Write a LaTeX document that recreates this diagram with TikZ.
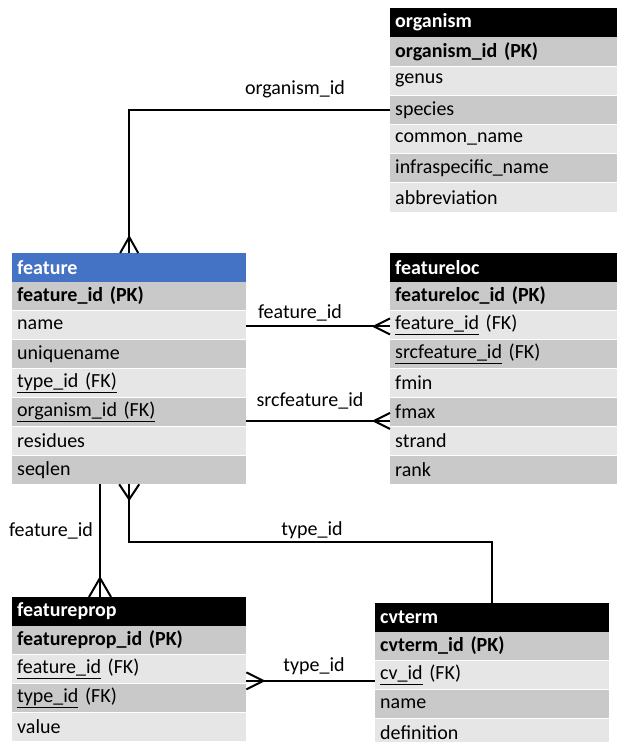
\documentclass[tikz,border=0pt]{standalone}
\usepackage{fontspec}
\setmainfont{Carlito}
\usetikzlibrary{calc}
\definecolor{rowdark}{HTML}{C9C9C9}
\definecolor{rowlight}{HTML}{E6E6E6}
\definecolor{hdrblue}{HTML}{4472C4}
\newcommand{\erow}[5]{\node[erow,#4] (#1) at (#2,#3) {#5};}
\begin{document}
\begin{tikzpicture}[x=1pt,y=-1pt,
  erow/.style={anchor=north west, inner xsep=5pt, inner ysep=0pt, minimum height=28.4pt, align=left, font=\fontsize{20}{23}\selectfont},
  wa/.style={minimum width=227pt, text width=217pt},
  wb/.style={minimum width=234pt, text width=224pt},
  hdr/.style={fill=black, text=white, font=\fontsize{20}{23}\selectfont\bfseries},
  hdrb/.style={fill=hdrblue, text=white, font=\fontsize{20}{23}\selectfont\bfseries},
  pk/.style={fill=rowdark, font=\fontsize{20}{23}\selectfont\bfseries},
  dk/.style={fill=rowdark},
  lt/.style={fill=rowlight},
  conn/.style={line width=2pt, black},
  lbl/.style={font=\fontsize{20}{23}\selectfont, inner sep=0pt}]
\useasboundingbox (0,0) rectangle (617,742);
\clip (0,0) rectangle (617,742);
% organism
\erow{org-h}{390}{8}{wa,hdr}{organism}
\erow{org-pk}{390}{37.2}{wa,pk}{organism\_id (PK)}
\erow{org-genus}{390}{66.3}{wa,lt}{genus}
\erow{org-species}{390}{95.5}{wa,dk}{species}
\erow{org-common}{390}{124.6}{wa,lt}{common\_name}
\erow{org-infra}{390}{153.8}{wa,dk}{infraspecific\_name}
\erow{org-abbr}{390}{183}{wa,lt}{abbreviation}
% feature
\erow{feat-h}{12}{253}{wb,hdrb}{feature}
\erow{feat-pk}{12}{281.5}{wb,pk}{feature\_id (PK)}
\erow{feat-name}{12}{310.5}{wb,lt}{name}
\erow{feat-uniq}{12}{339.5}{wb,dk}{uniquename}
\erow{feat-type}{12}{368.5}{wb,lt}{\underline{type\_id (FK)}}
\erow{feat-org}{12}{397.5}{wb,dk}{\underline{organism\_id (FK)}}
\erow{feat-res}{12}{426.5}{wb,lt}{residues}
\erow{feat-seq}{12}{455.5}{wb,dk}{seqlen}
% featureloc
\erow{floc-h}{390}{253}{wa,hdr}{featureloc}
\erow{floc-pk}{390}{281.5}{wa,pk}{featureloc\_id (PK)}
\erow{floc-fid}{390}{310.5}{wa,lt}{\underline{feature\_id} (FK)}
\erow{floc-src}{390}{339.5}{wa,dk}{\underline{srcfeature\_id} (FK)}
\erow{floc-fmin}{390}{368.5}{wa,lt}{fmin}
\erow{floc-fmax}{390}{397.5}{wa,dk}{fmax}
\erow{floc-strand}{390}{426.5}{wa,lt}{strand}
\erow{floc-rank}{390}{455.5}{wa,dk}{rank}
% featureprop
\erow{fp-h}{12}{597}{wb,hdr}{featureprop}
\erow{fp-pk}{12}{625.5}{wb,pk}{featureprop\_id (PK)}
\erow{fp-fid}{12}{654.5}{wb,lt}{\underline{feature\_id} (FK)}
\erow{fp-tid}{12}{683.5}{wb,dk}{\underline{type\_id} (FK)}
\erow{fp-val}{12}{712.5}{wb,lt}{value}
% cvterm
\erow{cv-h}{375}{603}{wb,hdr}{cvterm}
\erow{cv-pk}{375}{631.5}{wb,pk}{cvterm\_id (PK)}
\erow{cv-cv}{375}{660.5}{wb,lt}{\underline{cv\_id} (FK)}
\erow{cv-name}{375}{689.5}{wb,dk}{name}
\erow{cv-def}{375}{718.5}{wb,lt}{definition}
% organism -> feature
\draw[conn] (org-species.west) -| (feat-h.north);
\draw[conn] ($(feat-h.north)+(-9,0)$) -- ($(feat-h.north)+(0,-16)$) -- ($(feat-h.north)+(9,0)$);
\node[lbl] (l-org) at (295,89) {organism\_id};
% feature_id -> featureloc
\coordinate (fA) at ($(feat-name.east)+(0,1.5)$);
\coordinate (fB) at (fA -| floc-fid.west);
\draw[conn] (fA) -- (fB);
\draw[conn] ($(fB)+(0,-8)$) -- ($(fB)+(-16,0)$) -- ($(fB)+(0,8)$);
\node[lbl] (l-fid) at (300,313) {feature\_id};
% srcfeature_id
\coordinate (sA) at ($(feat-org.east)+(0,9)$);
\coordinate (sB) at (sA -| floc-fmax.west);
\draw[conn] (sA) -- (sB);
\draw[conn] ($(sB)+(0,-8)$) -- ($(sB)+(-16,0)$) -- ($(sB)+(0,8)$);
\node[lbl] (l-src) at (310,401) {srcfeature\_id};
% feature -> featureprop
\coordinate (vA) at ($(feat-seq.south west)+(88,0)$);
\coordinate (vB) at (vA |- fp-h.north);
\draw[conn] (vA) -- (vB);
\draw[conn] ($(vB)+(-11,0)$) -- ($(vB)+(0,-19)$) -- ($(vB)+(11,0)$);
\node[lbl] (l-fid2) at (51,531) {feature\_id};
% cvterm -> feature
\coordinate (tT) at ($(feat-seq.south)+(0,58)$);
\draw[conn] (cv-h.north) |- (tT) -- (feat-seq.south);
\draw[conn] ($(feat-seq.south)+(-10,0)$) -- ($(feat-seq.south)+(0,15)$) -- ($(feat-seq.south)+(10,0)$);
\node[lbl] (l-tid) at (312,530) {type\_id};
% cvterm -> featureprop
\coordinate (tA) at ($(fp-fid.east)+(0,12)$);
\coordinate (tB) at (tA -| cv-cv.west);
\draw[conn] (tA) -- (tB);
\draw[conn] ($(tA)+(0,-8.5)$) -- ($(tA)+(17,0)$) -- ($(tA)+(0,8.5)$);
\node[lbl] (l-tid2) at (314,666) {type\_id};
\end{tikzpicture}
\end{document}
